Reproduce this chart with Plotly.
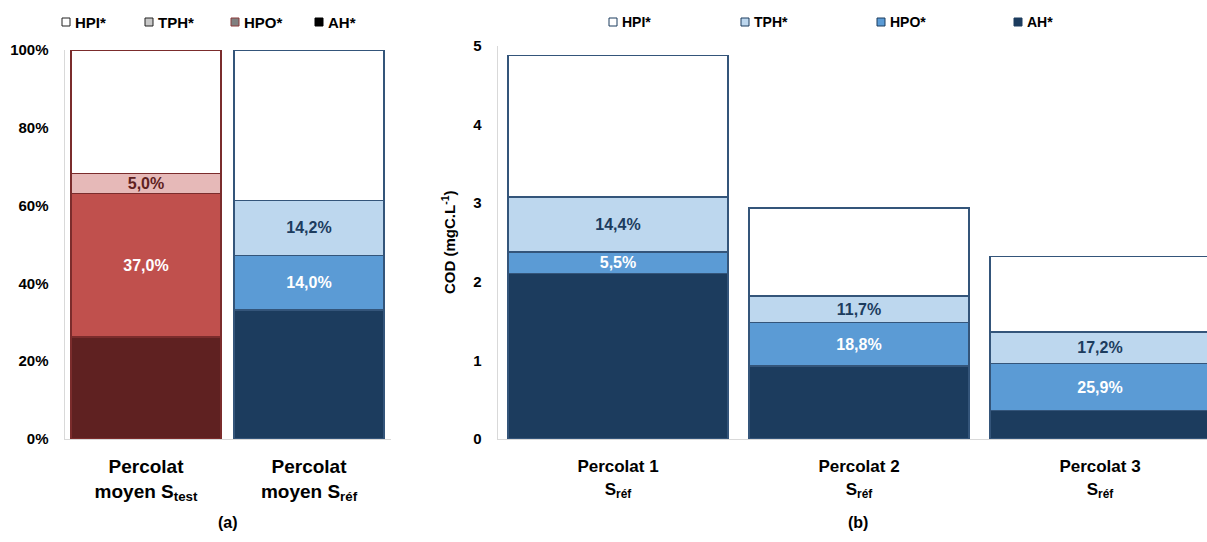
import plotly.graph_objects as go

W, H = 1207, 542

fractions = ["HPI*", "TPH*", "HPO*", "AH*"]

# (a) repartition moyenne du COD (% du total)
samples_a = ["Percolat<br>moyen S<sub>test</sub>", "Percolat<br>moyen S<sub>réf</sub>"]
ah_a = [26.2, 33.2]
hpo_a = [37.0, 14.0]
tph_a = [5.0, 14.2]
hpi_a = [31.8, 38.6]
ticks_a = [0, 20, 40, 60, 80, 100]

# (b) COD des percolats S_ref (mgC/L)
samples_b = ["Percolat 1<br>S<sub>réf</sub>", "Percolat 2<br>S<sub>réf</sub>", "Percolat 3<br>S<sub>réf</sub>"]
ah_b = [2.11, 0.93, 0.36]
hpo_b = [0.27, 0.55, 0.60]
tph_b = [0.70, 0.34, 0.40]
hpi_b = [1.80, 1.12, 0.96]
hpo_b_pct = ["5,5%", "18,8%", "25,9%"]
tph_b_pct = ["14,4%", "11,7%", "17,2%"]

FONT = "Liberation Sans, Arial, sans-serif"

# colours: S_test in reds, S_ref in blues
red = {"AH*": "#5f2121", "HPO*": "#c0504d", "TPH*": "#e6b9b8", "HPI*": "#ffffff"}
blue = {"AH*": "#1c3c5e", "HPO*": "#5b9bd5", "TPH*": "#bdd7ee", "HPI*": "#ffffff"}
red_line = "#7b2c2c"
blue_line = "#34557a"


def pct(v):
    return f"{v:.1f}".replace(".", ",") + "%"


def px(x):
    return x / W


def py(y):
    return 1 - y / H


def bold(size, color="black"):
    return dict(family=FONT, size=size, color=color, weight="bold")


fig = go.Figure()

# left panel: stacked bars from bottom (AH) to top (HPI)
vals_a = {"AH*": ah_a, "HPO*": hpo_a, "TPH*": tph_a, "HPI*": hpi_a}
text_a = {"HPO*": [pct(v) for v in hpo_a], "TPH*": [pct(v) for v in tph_a]}
textcol_a = {"HPO*": ["white", "white"], "TPH*": [red["AH*"], blue["AH*"]]}
for f in ["AH*", "HPO*", "TPH*", "HPI*"]:
    bar = go.Bar(
        x=samples_a, y=vals_a[f], name=f, width=0.92,
        marker=dict(color=[red[f], blue[f]],
                    line=dict(color=[red_line, blue_line], width=1.3)),
        xaxis="x", yaxis="y", showlegend=False, hoverinfo="skip",
    )
    if f in text_a:
        bar.update(text=text_a[f], textposition="inside", insidetextanchor="middle",
                   textangle=0, textfont=bold(16, textcol_a[f]))
    fig.add_trace(bar)

# right panel
vals_b = {"AH*": ah_b, "HPO*": hpo_b, "TPH*": tph_b, "HPI*": hpi_b}
text_b = {"HPO*": hpo_b_pct, "TPH*": tph_b_pct}
textcol_b = {"HPO*": "white", "TPH*": blue["AH*"]}
for f in ["AH*", "HPO*", "TPH*", "HPI*"]:
    bar = go.Bar(
        x=samples_b, y=vals_b[f], name=f, width=0.913,
        marker=dict(color=blue[f], line=dict(color=blue_line, width=1.3)),
        xaxis="x2", yaxis="y2", showlegend=False, hoverinfo="skip",
    )
    if f in text_b:
        bar.update(text=text_b[f], textposition="inside", insidetextanchor="middle",
                   textangle=0, textfont=bold(16, textcol_b[f]))
    fig.add_trace(bar)

axis_common = dict(showgrid=False, zeroline=False, showline=True, automargin=False,
                   linecolor="#d9d9d9", linewidth=1, fixedrange=True, ticks="")

fig.update_layout(
    width=W, height=H,
    margin=dict(l=0, r=0, t=0, b=0, pad=0),
    paper_bgcolor="white", plot_bgcolor="white",
    barmode="stack",
    uniformtext=dict(minsize=16, mode="show"),
    font=dict(family=FONT, color="black"),
    xaxis=dict(domain=[px(64.5), px(390.5)], range=[-0.5, 1.5], anchor="y",
               tickfont=bold(19), ticklabelstandoff=10, **axis_common),
    yaxis=dict(domain=[py(439), py(50)], range=[0, 100], anchor="x",
               tickvals=ticks_a, ticktext=[f"{t}%" for t in ticks_a],
               tickfont=bold(15), ticklabelstandoff=12, **axis_common),
    xaxis2=dict(domain=[px(497.5), 1.0], range=[-0.5, 2.444], anchor="y2",
                tickfont=bold(17), ticklabelstandoff=12, **axis_common),
    yaxis2=dict(domain=[py(439), py(46)], range=[0, 5], anchor="x2",
                dtick=1, tickfont=bold(15), ticklabelstandoff=12, **axis_common),
)

annotations = [
    dict(text="COD (mgC.L<sup>-1</sup>)", x=px(449), y=py(242),
         textangle=-90, font=bold(15)),
    dict(text="(a)", x=px(228), y=py(522), font=bold(16)),
    dict(text="(b)", x=px(858), y=py(522), font=bold(16)),
]

# hand-drawn legends (squares + labels)
legend_a = {"HPI*": ("#ffffff", "#222222"), "TPH*": ("#c8c8c8", "#222222"),
            "HPO*": ("#808080", "#8b3a3a"), "AH*": ("#000000", "#000000")}
legend_b = {f: (blue[f], "#1c3c5e") for f in fractions}
shapes = []
for starts, colours, size in [([62, 145, 231, 315], legend_a, 15),
                              ([609, 741, 877, 1014], legend_b, 14)]:
    for x0, f in zip(starts, fractions):
        fill, edge = colours[f]
        shapes.append(dict(type="rect", xref="paper", yref="paper",
                           x0=px(x0), x1=px(x0 + 8), y0=py(26), y1=py(18),
                           fillcolor=fill, line=dict(color=edge, width=1)))
        annotations.append(dict(text=f, x=px(x0 + 11), y=py(22),
                                xanchor="left", font=bold(size)))

for a in annotations:
    a.update(xref="paper", yref="paper", showarrow=False)
    a.setdefault("xanchor", "center")
    a.setdefault("yanchor", "middle")

fig.update_layout(annotations=annotations, shapes=shapes)

# the page's default body margin would shift the whole figure by 8px
fig.write_html("out.html", config={"displayModeBar": False},
               post_script="document.body.style.margin = '0';")
